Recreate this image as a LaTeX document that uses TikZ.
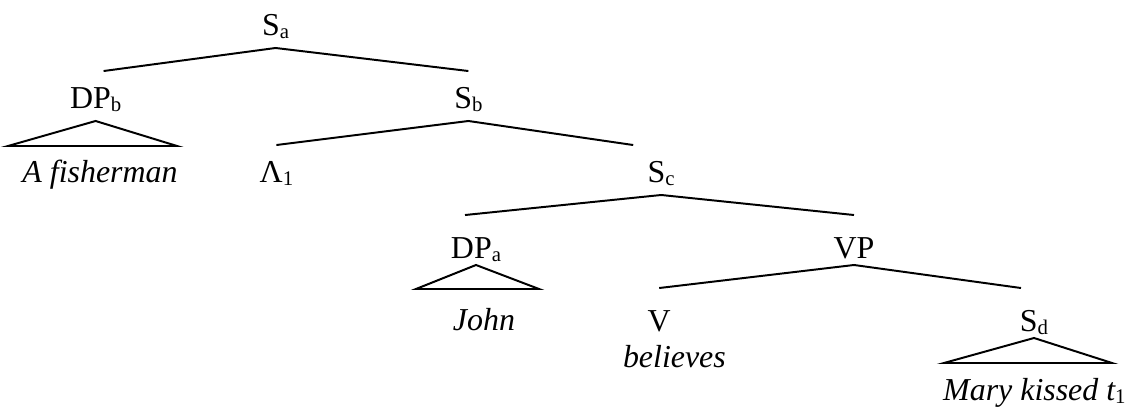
\documentclass[tikz,border=0pt]{standalone}
\usepackage{fontspec}
\setmainfont{Liberation Serif}
\usepackage{tikz}

\newcommand{\treefont}{\fontsize{22.7}{27}\selectfont}
\newcommand{\lo}[1]{\raisebox{-2.4pt}{\fontsize{14.8}{15}\selectfont\upshape #1}}

\begin{document}
\begin{tikzpicture}[line width=1.4pt,
  cat/.style={inner sep=0pt,anchor=base,font=\treefont,text height=0.9cm,text depth=0.3cm},
  low/.style={text height=1.05cm,text depth=0.15cm},
  leaf/.style={inner sep=0pt,anchor=base,font=\treefont\itshape}]
\useasboundingbox (0,0) rectangle (28.2,-10.3);

\node[cat] (Sa) at (6.89,-0.875) {S\lo{a}};
\node[cat] (DPb) at (2.39,-2.7) {DP\lo{b}};
\node[cat] (Sb) at (11.71,-2.7) {S\lo{b}};
\node[leaf] (fish) at (2.5,-4.55) {A fisherman};
\node[cat] (Lam) at (6.91,-4.55) {Λ\lo{1}};
\node[cat] (Sc) at (16.53,-4.55) {S\lo{c}};
\node[cat,low] (DPa) at (11.9,-6.45) {DP\lo{a}};
\node[cat,low] (VP) at (21.35,-6.45) {VP};
\node[leaf] (john) at (12.1,-8.25) {John};
\node[cat,low] (V) at (16.48,-8.275) {V};
\node[leaf] (believes) at (16.86,-9.175) {believes};
\node[cat,low] (Sd) at (25.85,-8.275) {S\lo{d}};
\node[leaf] (mary) at (25.86,-10.0) {Mary kissed t\lo{1}};

\draw ([xshift=0.2cm]DPb.north) -- (Sa.south) -- (Sb.north);
\draw (Lam.north) -- (Sb.south) -- ([xshift=-0.7cm]Sc.north);
\draw ([xshift=-0.275cm]DPa.north) -- (Sc.south) -- (VP.north);
\draw (V.north) -- (VP.south) -- ([xshift=-0.325cm]Sd.north);

\draw (DPb.south) -- ++(-2.19,-0.625) -- ++(4.225,0) -- cycle;
\draw (DPa.south) -- ++(-1.5,-0.6) -- ++(3.075,0) -- cycle;
\draw (Sd.south) -- ++(-2.25,-0.625) -- ++(4.2,0) -- cycle;
\end{tikzpicture}
\end{document}
